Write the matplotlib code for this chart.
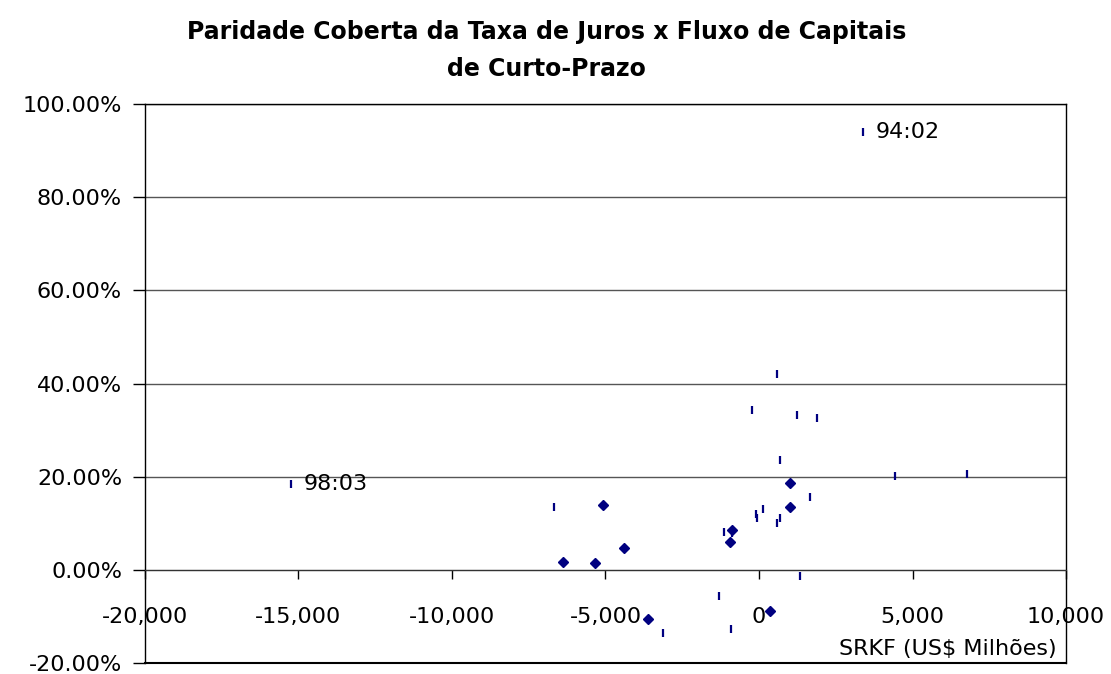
import matplotlib
matplotlib.use("Agg")
import matplotlib.pyplot as plt
from matplotlib.ticker import FuncFormatter, MultipleLocator

plt.rcParams['font.family'] = ['DejaVu Sans']

# SRKF (US$ milhoes) x paridade coberta (%)
tick_x = [3389, -15239, 4444, 6787, 588, -219, 1252, 1873, 676, 1645, -6690, 131,
          -87, -80, 676, 588, -1144, -882, 1330, -1307, -926, -3127]
tick_y = [93.9, 18.4, 20.2, 20.6, 42.1, 34.3, 33.3, 32.5, 23.6, 15.7, 13.4, 13.1,
          11.9, 11.2, 11.2, 10.0, 8.2, 7.9, -1.4, -5.7, -12.8, -13.6]
diam_x = [1013, -5088, 1013, -882, -937, -4412, -6395, -5350, -3606, 349]
diam_y = [18.7, 13.9, 13.4, 8.5, 5.9, 4.7, 1.7, 1.4, -10.5, -8.8]

labels = ['94:02', '98:03']
label_x = [3389, -15239]
label_y = [93.9, 18.4]

navy = '#000080'

fig = plt.figure(figsize=(11.11, 6.74), dpi=100)
ax = fig.add_axes([0.1305, 0.0163, 0.829, 0.8294])

ax.plot(tick_x, tick_y, linestyle='none', marker='|', markersize=6,
        markeredgewidth=1.6, color=navy, zorder=3)
ax.plot(diam_x, diam_y, linestyle='none', marker='D', markersize=5,
        color=navy, zorder=3)

for t, x, y in zip(labels, label_x, label_y):
    ax.annotate(t, (x, y), xytext=(9, 0), textcoords='offset points',
                ha='left', va='center', fontsize=16)

ax.set_xlim(-20000, 10000)
ax.set_ylim(-20, 100)
ax.xaxis.set_major_locator(MultipleLocator(5000))
ax.yaxis.set_major_locator(MultipleLocator(20))
ax.xaxis.set_major_formatter(FuncFormatter(lambda v, p: f'{v:,.0f}'))
ax.yaxis.set_major_formatter(FuncFormatter(lambda v, p: f'{v:.2f}%'))

ax.yaxis.grid(True, color='#555555', linewidth=1)
ax.set_axisbelow(True)

for s in ['left', 'right', 'top']:
    ax.spines[s].set_color('black')
    ax.spines[s].set_linewidth(1)
ax.spines['bottom'].set_position(('data', 0))
ax.spines['bottom'].set_color('#333333')
ax.axhline(-20, color='black', linewidth=1.5, clip_on=False)

ax.tick_params(axis='x', direction='out', length=6.5, width=1, pad=20,
               labelsize=16, colors='black')
ax.tick_params(axis='y', direction='out', length=8.5, width=1, pad=8,
               labelsize=16, colors='black')

ax.text(0.99, 0.008, 'SRKF (US$ Milhões)', transform=ax.transAxes,
        ha='right', va='bottom', fontsize=16)

fig.text(0.492, 0.97, 'Paridade Coberta da Taxa de Juros x Fluxo de Capitais\nde Curto-Prazo',
         ha='center', va='top', fontsize=17, fontweight='bold', linespacing=1.65)

fig.savefig('out.png', dpi=100)
